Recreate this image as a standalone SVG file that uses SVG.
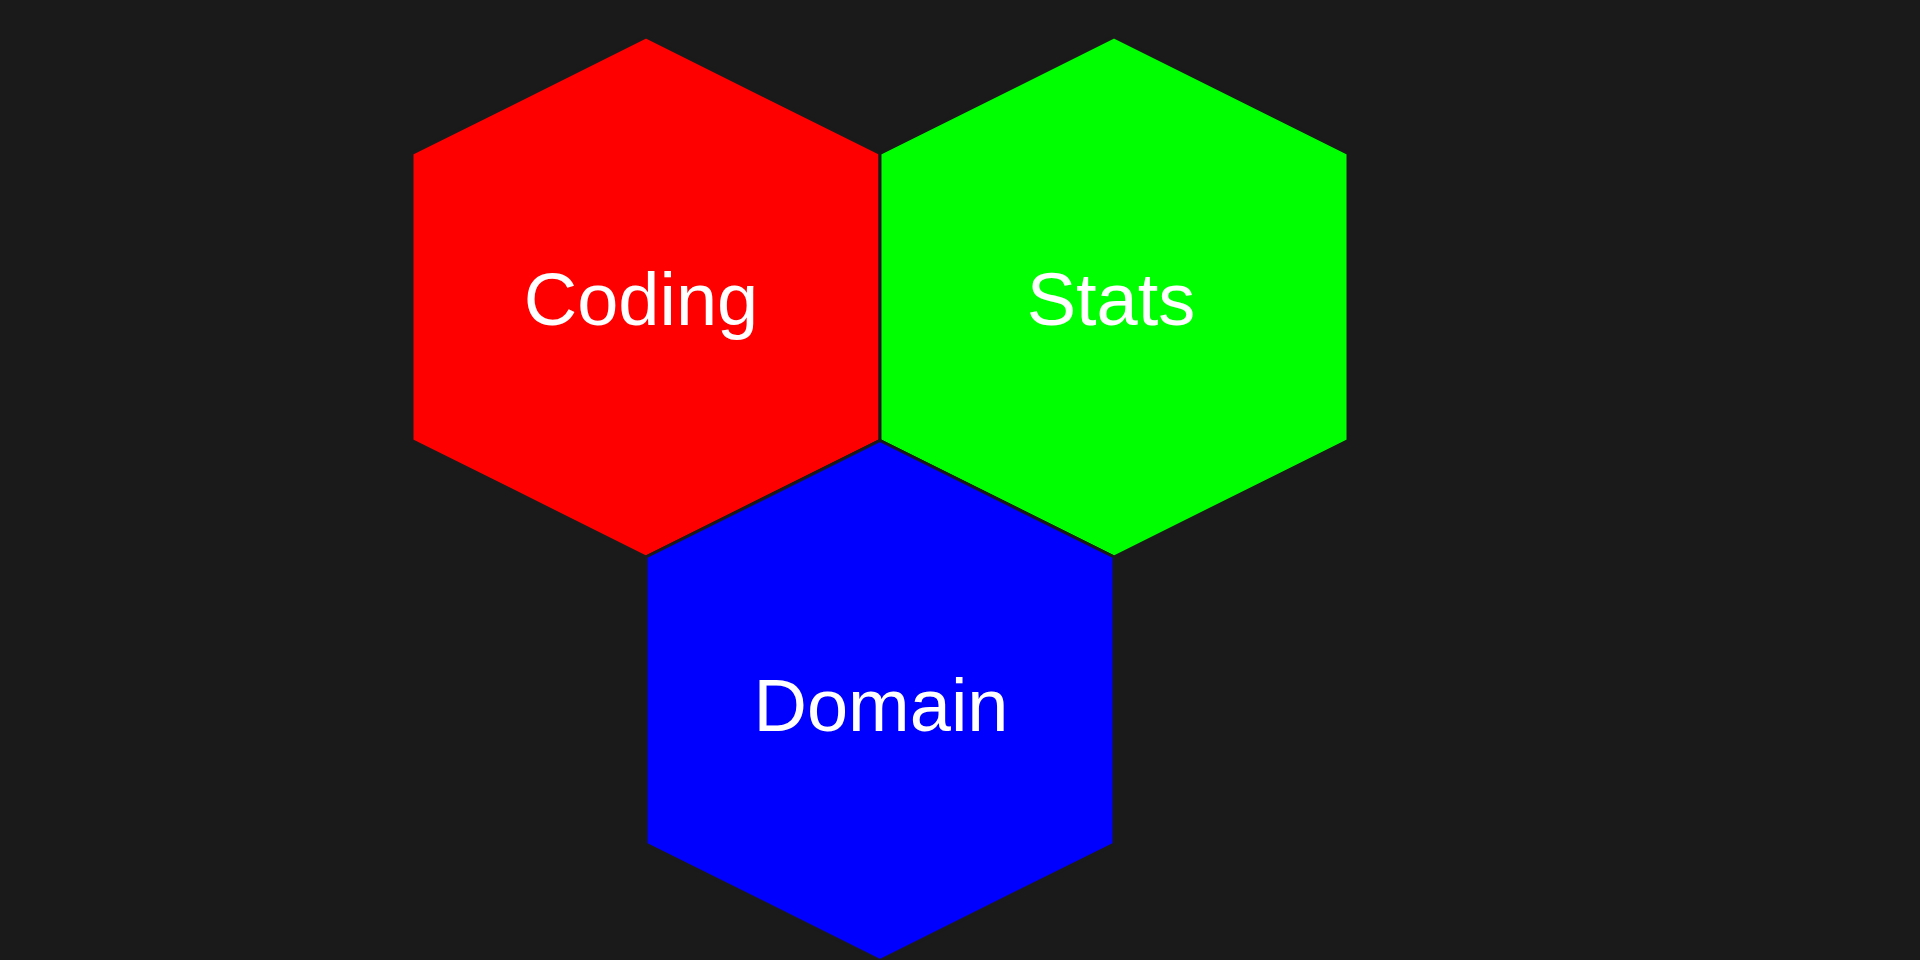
<svg xmlns="http://www.w3.org/2000/svg" width="1920" height="960" viewBox="0 0 1920 960">
<style>
.hex{stroke:#1a1a1a;stroke-width:3;stroke-linejoin:miter}
.lbl{font-family:"Liberation Sans",Arial,Helvetica,sans-serif;font-size:74px;fill:#ffffff;text-anchor:middle}
</style>
<rect width="1920" height="960" fill="#1a1a1a"/>
<g id="node-coding">
<polygon class="hex" fill="#ff0000" points="646,37 880,153.5 880,440.5 646,557 412,440.5 412,153.5"/>
<text class="lbl" x="641" y="325">Coding</text>
</g>
<g id="node-stats">
<polygon class="hex" fill="#00ff00" points="1114,37 1348,153.5 1348,440.5 1114,557 880,440.5 880,153.5"/>
<text class="lbl" x="1111" y="325">Stats</text>
</g>
<g id="node-domain">
<polygon class="hex" fill="#0000ff" points="880,440.5 1114,557 1114,844 880,960.5 646,844 646,557"/>
<text class="lbl" x="881" y="731">Domain</text>
</g>
<g id="connectors"></g>
</svg>
